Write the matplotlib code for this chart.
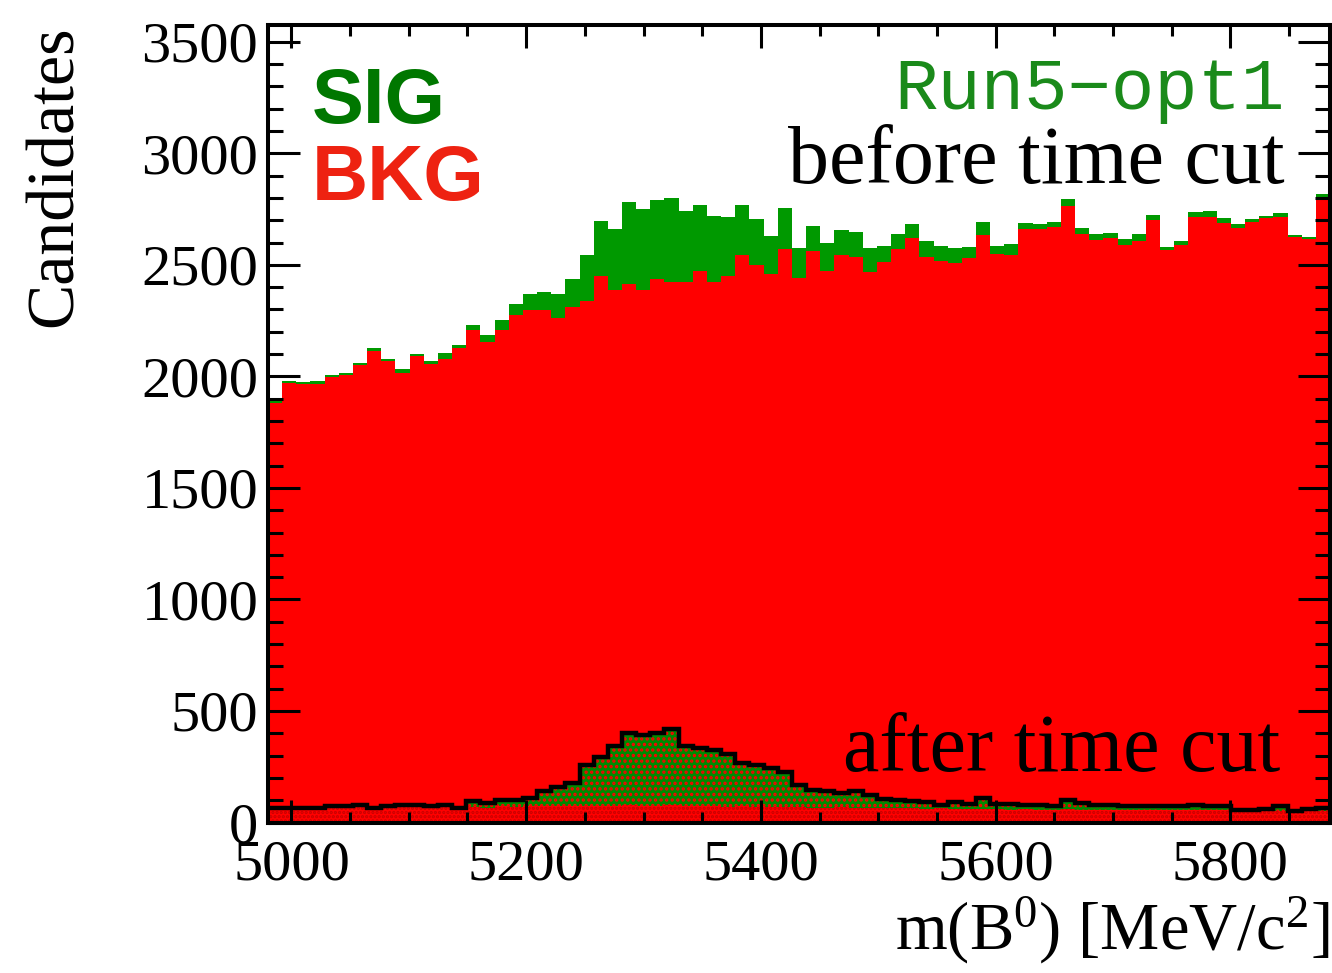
import numpy as np
import matplotlib
matplotlib.use("Agg")
import matplotlib.pyplot as plt
from matplotlib.ticker import MultipleLocator

# ---------------- data ----------------
x_lo, x_hi, n_bins = 4980.0, 5885.0, 75

bkg_before = [1882, 1972, 1967, 1967, 1995, 2004, 2052, 2115, 2067, 2017,
              2092, 2056, 2077, 2127, 2207, 2153, 2209, 2276, 2298, 2298,
              2261, 2313, 2339, 2452, 2385, 2413, 2388, 2437, 2422, 2422,
              2474, 2424, 2452, 2545, 2497, 2458, 2572, 2442, 2564, 2473,
              2542, 2533, 2468, 2512, 2570, 2619, 2537, 2518, 2509, 2531,
              2634, 2548, 2545, 2661, 2661, 2671, 2763, 2637, 2610, 2619,
              2589, 2607, 2700, 2566, 2591, 2716, 2716, 2689, 2664, 2691,
              2712, 2715, 2624, 2615, 2791]
total_before = [1890, 1977, 1974, 1978, 2007, 2016, 2061, 2127, 2079, 2034,
                2101, 2070, 2103, 2141, 2231, 2186, 2253, 2325, 2370, 2377,
                2367, 2436, 2542, 2698, 2661, 2781, 2752, 2791, 2799, 2740,
                2769, 2721, 2715, 2770, 2706, 2628, 2754, 2575, 2673, 2597,
                2655, 2645, 2575, 2586, 2637, 2685, 2606, 2584, 2577, 2579,
                2691, 2584, 2593, 2689, 2682, 2691, 2794, 2666, 2639, 2642,
                2615, 2637, 2724, 2582, 2607, 2736, 2739, 2709, 2682, 2707,
                2718, 2734, 2633, 2625, 2817]
sig_before = [t - b for t, b in zip(total_before, bkg_before)]

bkg_after = [60, 58, 60, 62, 68, 70, 72, 62, 66, 70,
             71, 66, 68, 60, 70, 66, 72, 68, 72, 74,
             72, 75, 74, 76, 73, 78, 76, 75, 77, 74,
             73, 72, 70, 72, 71, 70, 68, 69, 67, 66,
             68, 65, 66, 64, 65, 63, 62, 63, 61, 62,
             60, 60, 58, 59, 58, 57, 60, 58, 56, 57,
             55, 56, 55, 54, 55, 56, 54, 55, 50, 50,
             51, 52, 48, 50, 52]
total_after = [64, 64, 65, 67, 74, 76, 79, 67, 73, 78,
               79, 74, 78, 67, 95, 87, 99, 99, 108, 141,
               159, 177, 256, 295, 341, 399, 393, 399, 420, 345,
               336, 324, 308, 266, 258, 243, 228, 169, 146, 139,
               131, 139, 124, 105, 102, 97, 90, 79, 94, 82,
               108, 85, 82, 80, 78, 75, 100, 88, 80, 80,
               75, 72, 75, 72, 75, 78, 76, 74, 58, 58,
               60, 75, 52, 62, 65]
sig_after = [t - b for t, b in zip(total_after, bkg_after)]

x_ticks = [5000, 5200, 5400, 5600, 5800]
y_ticks = [0, 500, 1000, 1500, 2000, 2500, 3000, 3500]
y_max = 3575

# ---------------- style ----------------
plt.rcParams['font.family'] = ['Liberation Serif', 'DejaVu Serif']
plt.rcParams['mathtext.fontset'] = 'custom'
plt.rcParams['mathtext.rm'] = 'Liberation Serif'
plt.rcParams['mathtext.it'] = 'Liberation Serif:italic'
plt.rcParams['hatch.linewidth'] = 1.6

RED = '#ff0000'
GREEN = '#009900'

fig = plt.figure(figsize=(13.32, 9.73), dpi=100)
ax = fig.add_axes([268 / 1332, 1 - 822.5 / 973, 1062 / 1332, 797.5 / 973])

edges = np.linspace(x_lo, x_hi, n_bins + 1)
bb = np.array(bkg_before, float)
sb = np.array(sig_before, float)
ba = np.array(bkg_after, float)
sa = np.array(sig_after, float)

# before time cut (stacked: BKG then SIG)
ax.stairs(bb + sb, edges, baseline=0, fill=True, facecolor=GREEN, edgecolor='none', linewidth=0)
ax.stairs(bb, edges, baseline=0, fill=True, facecolor=RED, edgecolor='none', linewidth=0)
# after time cut (stacked with patterns)
ax.stairs(ba + sa, edges, baseline=0, fill=True, facecolor='#008a00', edgecolor=RED,
          hatch='...', linewidth=0)
ax.stairs(ba, edges, baseline=0, fill=True, facecolor=RED, edgecolor='#c80000',
          hatch='....', linewidth=0)
ax.stairs(ba + sa, edges, baseline=None, fill=False, color='black', linewidth=3.2)

ax.set_xlim(x_lo, x_hi)
ax.set_ylim(0, y_max)
ax.set_xticks(x_ticks)
ax.set_yticks(y_ticks)
ax.xaxis.set_minor_locator(MultipleLocator(50))
ax.yaxis.set_minor_locator(MultipleLocator(100))

for s in ax.spines.values():
    s.set_linewidth(2.9)
    s.set_zorder(10)

ax.tick_params(axis='both', which='both', direction='in', top=True, right=True,
               width=2.2, labelsize=42, colors='black')
ax.tick_params(axis='x', which='major', length=16.5, pad=12)
ax.tick_params(axis='x', which='minor', length=8)
ax.tick_params(axis='y', which='major', length=23, pad=7)
ax.tick_params(axis='y', which='minor', length=11)
for t in ax.get_xticklines() + ax.get_yticklines():
    t.set_zorder(10)

# labels
fig.text(55 / 1332, 1 - 25 / 973, 'Candidates', rotation=90, ha='center', va='top',
         fontsize=49)
fig.text(1330 / 1332, 1 - 966 / 973, r'm(B$^{0}$) [MeV/c$^{2}$]', ha='right',
         va='bottom', fontsize=48)

# annotations
ax.text(0.0414, 0.877, 'SIG', transform=ax.transAxes, ha='left', va='baseline',
        fontsize=56, fontweight='bold', color='#007700',
        family=['Liberation Sans', 'DejaVu Sans'])
ax.text(0.0414, 0.780, 'BKG', transform=ax.transAxes, ha='left', va='baseline',
        fontsize=56, fontweight='bold', color='#ee2211',
        family=['Liberation Sans', 'DejaVu Sans'])
ax.text(0.9576, 0.895, 'Run5\u2212opt1', transform=ax.transAxes, ha='right',
        va='baseline', fontsize=52, color='#1a8a1a',
        family=['Liberation Mono', 'DejaVu Sans Mono'])
ax.text(0.9576, 0.802, 'before time cut', transform=ax.transAxes, ha='right',
        va='baseline', fontsize=59, color='black')
ax.text(0.953, 0.0649, 'after time cut', transform=ax.transAxes, ha='right',
        va='baseline', fontsize=59, color='black')

fig.savefig('out.png', dpi=100)
